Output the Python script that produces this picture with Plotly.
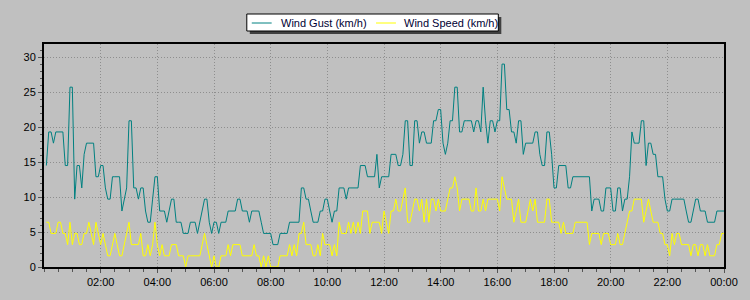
import plotly.graph_objects as go

# Values, in whole mph (the chart shows km/h), 5-minute samples from 00:05 to 24:00
gust_mph = [
    9, 12, 12, 11, 12, 12, 12, 12, 9, 9, 16, 16,
    6, 9, 9, 7, 10, 11, 11, 11, 11, 8, 8, 9,
    9, 7, 6, 6, 8, 8, 8, 8, 5, 6, 7, 13,
    13, 7, 7, 6, 7, 7, 5, 4, 4, 6, 8, 8,
    5, 5, 5, 4, 5, 6, 6, 4, 4, 4, 3, 3,
    3, 4, 4, 4, 3, 4, 5, 6, 6, 4, 3, 4,
    4, 3, 4, 4, 4, 5, 5, 5, 5, 6, 6, 5,
    5, 5, 4, 5, 5, 5, 5, 4, 3, 3, 3, 3,
    2, 2, 2, 3, 3, 3, 3, 4, 4, 4, 4, 4,
    7, 7, 6, 6, 5, 4, 4, 4, 5, 5, 6, 6,
    5, 4, 5, 5, 7, 7, 7, 6, 7, 7, 7, 7,
    7, 9, 9, 9, 8, 8, 8, 8, 10, 7, 8, 8,
    8, 8, 10, 10, 10, 9, 9, 10, 13, 13, 9, 9,
    13, 13, 11, 12, 12, 11, 11, 11, 13, 13, 14, 14,
    11, 10, 11, 13, 13, 16, 16, 12, 12, 13, 13, 13,
    13, 12, 13, 13, 12, 16, 13, 11, 13, 13, 12, 13,
    13, 18, 18, 14, 14, 12, 12, 11, 13, 13, 10, 11,
    11, 11, 11, 12, 12, 10, 9, 9, 12, 12, 10, 7,
    7, 9, 9, 9, 9, 7, 7, 8, 8, 8, 8, 8,
    8, 8, 8, 5, 6, 6, 6, 5, 5, 7, 7, 7,
    5, 5, 7, 7, 5, 6, 6, 8, 12, 11, 11, 11,
    13, 13, 9, 11, 11, 10, 10, 8, 8, 8, 6, 5,
    5, 6, 6, 6, 6, 6, 6, 5, 4, 4, 5, 6,
    6, 5, 5, 5, 4, 4, 4, 4, 5, 5, 5, 5,
]

speed_mph = [
    4, 4, 3, 3, 3, 4, 4, 3, 3, 2, 4, 2,
    3, 3, 2, 2, 3, 3, 4, 3, 2, 4, 3, 2,
    3, 2, 1, 1, 2, 3, 2, 1, 1, 2, 3, 4,
    2, 2, 2, 2, 3, 1, 1, 2, 1, 2, 4, 2,
    1, 2, 1, 1, 1, 2, 2, 2, 1, 1, 1, 0,
    1, 1, 1, 1, 1, 1, 2, 3, 2, 1, 0, 1,
    0, 0, 1, 1, 1, 2, 1, 2, 2, 2, 2, 1,
    1, 1, 1, 1, 2, 1, 1, 0, 1, 0, 1, 0,
    0, 0, 0, 1, 1, 1, 1, 2, 1, 2, 1, 3,
    3, 4, 2, 2, 2, 1, 1, 2, 1, 3, 2, 2,
    2, 1, 2, 1, 4, 3, 3, 3, 4, 3, 4, 3,
    4, 3, 5, 5, 5, 3, 4, 4, 4, 4, 3, 5,
    4, 3, 5, 5, 6, 5, 5, 6, 7, 4, 4, 5,
    6, 6, 5, 6, 4, 6, 4, 6, 6, 5, 6, 5,
    5, 5, 6, 7, 7, 8, 7, 5, 6, 6, 6, 6,
    5, 5, 7, 5, 5, 6, 5, 6, 6, 6, 6, 6,
    5, 8, 7, 6, 6, 6, 4, 5, 6, 4, 4, 4,
    5, 6, 5, 6, 4, 4, 4, 4, 6, 6, 4, 4,
    4, 4, 3, 4, 3, 3, 3, 3, 4, 4, 4, 4,
    4, 4, 2, 3, 3, 3, 3, 2, 3, 3, 3, 2,
    2, 2, 3, 2, 2, 3, 4, 5, 5, 6, 6, 6,
    6, 4, 5, 6, 5, 4, 4, 4, 3, 3, 2, 2,
    1, 3, 2, 3, 3, 2, 2, 2, 2, 1, 2, 2,
    1, 2, 2, 1, 2, 1, 1, 1, 2, 2, 3, 3,
]

series_names = ["Wind Gust (km/h)", "Wind Speed (km/h)"]
series_colors = ["#008080", "#FFFF00"]

KMH_PER_MPH = 1.609344
SAMPLE_MINUTES = 5

x_tick_vals = [2, 4, 6, 8, 10, 12, 14, 16, 18, 20, 22, 24]
x_tick_text = ["02:00", "04:00", "06:00", "08:00", "10:00", "12:00",
               "14:00", "16:00", "18:00", "20:00", "22:00", "00:00"]
y_tick_vals = [0, 5, 10, 15, 20, 25, 30]

n = min(len(gust_mph), len(speed_mph))
hours = [(k + 1) * SAMPLE_MINUTES / 60.0 for k in range(n)]
gust_kmh = [round(v * KMH_PER_MPH, 1) for v in gust_mph[:n]]
speed_kmh = [round(v * KMH_PER_MPH, 1) for v in speed_mph[:n]]

BG = "#C0C0C0"
GRID = "#8E8E8E"
FONT = "Liberation Sans, Arial, sans-serif"

fig = go.Figure()
for vals, name, col in zip([gust_kmh, speed_kmh], series_names, series_colors):
    fig.add_trace(go.Scatter(x=hours, y=vals, mode="lines", name=name,
                             line=dict(color=col, width=1), showlegend=False))

L, R, T, B = 44, 22, 44, 33
W, H = 750, 300
pw, ph = W - L - R, H - T - B


def px_x(p):
    return (p - L) / pw


def px_y(p):
    return (H - B - p) / ph


# Legend box (drawn like the original: white box, black border, dark drop shadow)
leg_x0, leg_x1, leg_y0, leg_y1 = 248, 501, 14, 31
shapes = [
    dict(type="rect", xref="paper", yref="paper",
         x0=px_x(leg_x0 + 3), x1=px_x(leg_x1 + 3), y0=px_y(leg_y0 + 3), y1=px_y(leg_y1 + 3),
         fillcolor="#404040", line=dict(width=0), layer="above"),
    dict(type="rect", xref="paper", yref="paper",
         x0=px_x(leg_x0), x1=px_x(leg_x1), y0=px_y(leg_y0), y1=px_y(leg_y1),
         fillcolor="#FFFFFF", line=dict(color="#000000", width=1), layer="above"),
]
annotations = []
item_sample_x = [(253, 273), (378, 398)]
item_text_x = [280, 404]
mid_y = (leg_y0 + leg_y1) / 2 + 0.5
for (sx0, sx1), tx, name, col in zip(item_sample_x, item_text_x, series_names, series_colors):
    shapes.append(dict(type="line", xref="paper", yref="paper",
                       x0=px_x(sx0), x1=px_x(sx1), y0=px_y(mid_y), y1=px_y(mid_y),
                       line=dict(color=col, width=1), layer="above"))
    annotations.append(dict(xref="paper", yref="paper", x=px_x(tx), y=px_y(mid_y),
                            xanchor="left", yanchor="middle", showarrow=False, text=name,
                            font=dict(family=FONT, size=11, color="#000033")))

fig.update_layout(
    width=W, height=H,
    margin=dict(l=L, r=R, t=T, b=B, pad=0),
    paper_bgcolor=BG, plot_bgcolor=BG,
    font=dict(family=FONT, size=11, color="#000000"),
    showlegend=False,
    shapes=shapes,
    annotations=annotations,
    xaxis=dict(range=[0, 24], tickmode="array", tickvals=x_tick_vals, ticktext=x_tick_text,
               showgrid=True, gridcolor=GRID, griddash="1px,2px", gridwidth=1,
               showline=True, linecolor="#000000", linewidth=2, mirror=True,
               ticks="outside", ticklen=4, tickcolor="#555555", tickwidth=1,
               minor=dict(tickmode="linear", tick0=0, dtick=0.5, ticks="outside",
                          ticklen=3, tickcolor="#555555", showgrid=False),
               zeroline=False, fixedrange=True),
    yaxis=dict(range=[0, 31.87], tickmode="array", tickvals=y_tick_vals,
               showgrid=True, gridcolor=GRID, griddash="1px,2px", gridwidth=1,
               showline=True, linecolor="#000000", linewidth=2, mirror=True,
               ticks="outside", ticklen=4, tickcolor="#555555", tickwidth=1,
               minor=dict(tickmode="linear", tick0=0, dtick=1, ticks="outside",
                          ticklen=2, tickcolor="#555555", showgrid=False),
               zeroline=False, fixedrange=True),
)

fig.write_html("out.html")
